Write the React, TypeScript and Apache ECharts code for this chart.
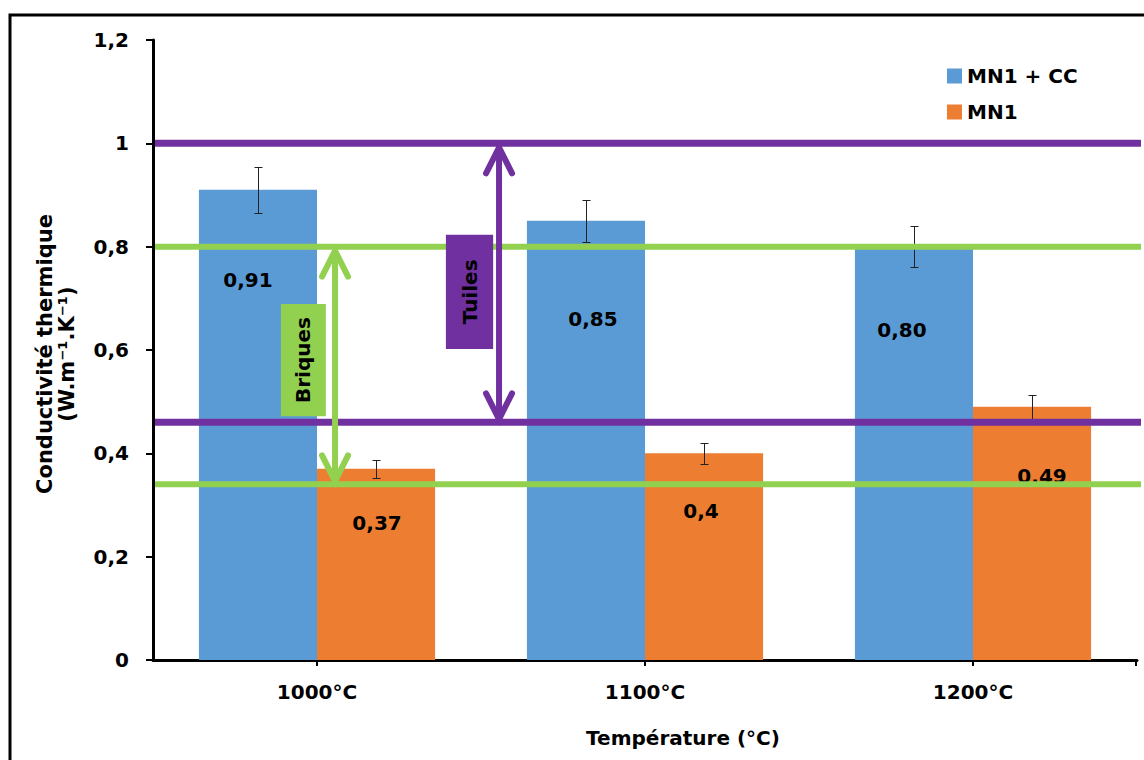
import React, { useEffect, useRef } from "react";
import * as echarts from "echarts";

// ---------- data ----------
const categories = ["1000°C", "1100°C", "1200°C"];
const seriesNames = ["MN1 + CC", "MN1"];
const mn1ccValues = [0.91, 0.85, 0.8];
const mn1Values = [0.37, 0.4, 0.49];
const mn1ccErrors = [0.045, 0.04, 0.04];
const mn1Errors = [0.017, 0.02, 0.023];
const mn1ccLabels = ["0,91", "0,85", "0,80"];
const mn1Labels = ["0,37", "0,4", "0,49"];
const yMin = 0;
const yMax = 1.2;
const yInterval = 0.2;
const annotationNames = ["Briques", "Tuiles"];
const briquesRange = [0.34, 0.8];
const tuilesRange = [0.46, 1.0];
const xTitle = "Température (°C)";
const yTitle = "Conductivité thermique\n(W.m⁻¹.K⁻¹)";

// ---------- styling / layout ----------
const FONT = '"DejaVu Sans", Verdana, sans-serif';
const BLUE = "#5B9BD5";
const ORANGE = "#ED7D31";
const PURPLE = "#7030A0";
const GREEN = "#92D050";
const BAR_FRAC = 0.36; // bar width as a fraction of the category band
// label offsets [dx px, dy px from bar top]
const mn1ccLabelPos = [
  [-10, 90],
  [7, 98],
  [-12, 83],
];
const mn1LabelPos = [
  [1, 54],
  [-3, 58],
  [10, 69],
];
// annotation layout, x in category-band units from the axis start
const annotationLayout = [
  { box: [0.39, 0.527, 0.472, 0.689], arrowX: 0.555, color: GREEN, range: briquesRange, lineW: 6 },
  { box: [0.893, 1.037, 0.602, 0.823], arrowX: 1.055, color: PURPLE, range: tuilesRange, lineW: 7 },
];

const fmt = (v: number) => String(+v.toFixed(2)).replace(".", ",");

export default function App() {
  const ref = useRef<HTMLDivElement>(null);

  useEffect(() => {
    if (!ref.current) return;
    const chart = echarts.init(ref.current, undefined, { renderer: "svg" });

    const barData = (vals: number[], pos: number[][], labels: string[]) =>
      vals.map((v, i) => ({
        value: v,
        label: {
          show: true,
          position: ["50%", pos[i][1]],
          offset: [pos[i][0], 0],
          align: "center",
          verticalAlign: "middle",
          formatter: labels[i],
          color: "#000",
          fontFamily: FONT,
          fontWeight: "bold",
          fontSize: 20,
        },
      }));

    const errorData: number[][] = [];
    mn1ccValues.forEach((v, i) => errorData.push([i, v, mn1ccErrors[i], 0]));
    mn1Values.forEach((v, i) => errorData.push([i, v, mn1Errors[i], 1]));

    const option: any = {
      animation: false,
      backgroundColor: "#fff",
      grid: { left: 153, right: 7, top: 40, bottom: 100, containLabel: false },
      legend: {
        data: seriesNames,
        orient: "vertical",
        left: 942,
        top: 61,
        itemWidth: 15,
        itemHeight: 15,
        itemGap: 16,
        itemTextGap: 6,
        icon: "rect",
        textStyle: {
          fontFamily: FONT,
          fontWeight: "bold",
          fontSize: 20,
          lineHeight: 20,
          color: "#000",
        },
      },
      xAxis: {
        type: "category",
        data: categories,
        axisLine: { show: true, lineStyle: { color: "#000", width: 3 } },
        axisTick: { show: true, alignWithLabel: true, length: 6, lineStyle: { color: "#000", width: 2 } },
        axisLabel: {
          margin: 22,
          color: "#000",
          fontFamily: FONT,
          fontWeight: "bold",
          fontSize: 20,
        },
        splitLine: { show: false },
      },
      yAxis: {
        type: "value",
        min: yMin,
        max: yMax,
        interval: yInterval,
        axisLine: { show: true, lineStyle: { color: "#000", width: 3 } },
        axisTick: { show: true, length: 7, lineStyle: { color: "#000", width: 2 } },
        axisLabel: {
          margin: 24,
          color: "#000",
          fontFamily: FONT,
          fontWeight: "bold",
          fontSize: 20,
          formatter: (v: number) => fmt(v),
        },
        splitLine: { show: false },
      },
      series: [
        {
          name: seriesNames[0],
          type: "bar",
          barWidth: BAR_FRAC * 100 + "%",
          barGap: "0%",
          itemStyle: { color: BLUE },
          z: 2,
          data: barData(mn1ccValues, mn1ccLabelPos, mn1ccLabels),
        },
        {
          name: seriesNames[1],
          type: "bar",
          barWidth: BAR_FRAC * 100 + "%",
          barGap: "0%",
          itemStyle: { color: ORANGE },
          z: 2,
          data: barData(mn1Values, mn1LabelPos, mn1Labels),
        },
        {
          type: "custom",
          z: 3,
          encode: { x: 0, y: 1 },
          data: errorData,
          renderItem: (params: any, api: any) => {
            const c = api.value(0);
            const v = api.value(1);
            const e = api.value(2);
            const s = api.value(3);
            const band = api.size([1, 0])[0];
            const top = api.coord([c, v + e]);
            const bot = api.coord([c, v - e]);
            const x = Math.round(top[0] + (s === 0 ? -1 : 1) * band * BAR_FRAC * 0.5) + 0.5;
            const y1 = Math.round(top[1]) + 0.5;
            const y2 = Math.round(bot[1]) + 0.5;
            const st = { stroke: "#222", lineWidth: 1 };
            return {
              type: "group",
              children: [
                { type: "line", shape: { x1: x, y1, x2: x, y2 }, style: st },
                { type: "line", shape: { x1: x - 4, y1, x2: x + 4, y2: y1 }, style: st },
                { type: "line", shape: { x1: x - 4, y1: y2, x2: x + 4, y2 }, style: st },
              ],
            };
          },
        },
        {
          type: "custom",
          z: 5,
          encode: { x: 0, y: 1 },
          data: [[0, 0]],
          renderItem: (params: any, api: any) => {
            const band = api.size([1, 0])[0];
            const x0 = api.coord([0, 0])[0] - band / 2;
            const X = (f: number) => x0 + f * band;
            const Y = (v: number) => api.coord([0, v])[1];
            const children: any[] = [];
            // end tick of the x axis
            children.push({
              type: "line",
              shape: { x1: X(3) - 1, y1: Y(0), x2: X(3) - 1, y2: Y(0) + 6 },
              style: { stroke: "#000", lineWidth: 2 },
            });
            // horizontal range lines
            annotationLayout.forEach((a) => {
              a.range.forEach((v) => {
                children.push({
                  type: "line",
                  shape: { x1: X(0) + 2, y1: Y(v), x2: X(3) + 4, y2: Y(v) },
                  style: { stroke: a.color, lineWidth: a.lineW },
                });
              });
            });
            // boxes with rotated text
            annotationLayout.forEach((a, i) => {
              const [bx1, bx2, by1, by2] = a.box;
              const left = X(bx1);
              const right = X(bx2);
              const top = Y(by2);
              const bottom = Y(by1);
              children.push({
                type: "rect",
                shape: { x: left, y: top, width: right - left, height: bottom - top },
                style: { fill: a.color },
              });
              children.push({
                type: "text",
                x: (left + right) / 2,
                y: (top + bottom) / 2,
                rotation: Math.PI / 2,
                style: {
                  text: annotationNames[i],
                  fill: "#000",
                  font: 'bold 20px ' + FONT,
                  align: "center",
                  verticalAlign: "middle",
                },
              });
            });
            // double arrows
            annotationLayout.forEach((a) => {
              const x = X(a.arrowX);
              const tTop = Y(a.range[1]) + 4;
              const tBot = Y(a.range[0]) - 3;
              const st = {
                stroke: a.color,
                lineWidth: 6,
                lineJoin: "miter",
                lineCap: "round",
                fill: "none",
              };
              children.push({ type: "line", shape: { x1: x, y1: tTop + 2, x2: x, y2: tBot - 2 }, style: st });
              children.push({
                type: "polyline",
                shape: { points: [[x - 13, tTop + 26], [x, tTop], [x + 13, tTop + 26]] },
                style: st,
              });
              children.push({
                type: "polyline",
                shape: { points: [[x - 13, tBot - 26], [x, tBot], [x + 13, tBot - 26]] },
                style: st,
              });
            });
            return { type: "group", children };
          },
        },
      ],
      graphic: [
        {
          type: "rect",
          silent: true,
          shape: { x: 10, y: 15, width: 1200, height: 800 },
          style: { fill: "none", stroke: "#000", lineWidth: 3 },
          z: 0,
        },
        {
          type: "text",
          x: 683,
          y: 738,
          style: {
            text: xTitle,
            fill: "#000",
            font: "bold 20px " + FONT,
            align: "center",
            verticalAlign: "middle",
          },
        },
        {
          type: "text",
          x: 56,
          y: 354,
          rotation: Math.PI / 2,
          style: {
            text: yTitle,
            fill: "#000",
            font: "bold 21px " + FONT,
            align: "center",
            verticalAlign: "middle",
            lineHeight: 22,
          },
        },
      ],
    };

    chart.setOption(option);
    return () => chart.dispose();
  }, []);

  return (
    <div
      ref={ref}
      style={{ position: "absolute", left: 0, top: 0, width: 1144, height: 760, background: "#fff" }}
    />
  );
}
